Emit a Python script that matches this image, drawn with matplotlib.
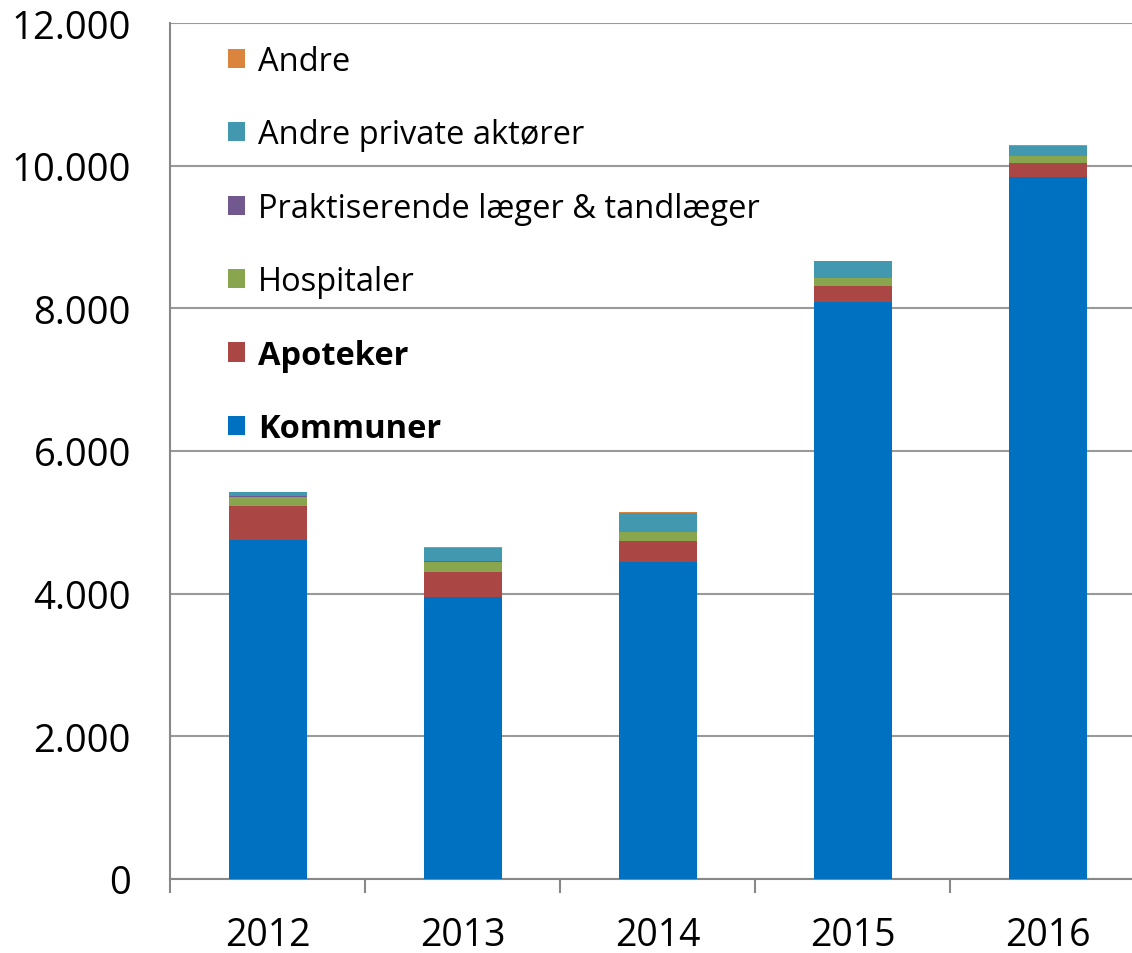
import matplotlib
matplotlib.use("Agg")
from matplotlib import pyplot as plt
from matplotlib.ticker import FuncFormatter, FixedLocator
import numpy as np

years = ["2012", "2013", "2014", "2015", "2016"]
kommuner = [4750, 3960, 4440, 8090, 9845]
apoteker = [480, 345, 303, 225, 190]
hospitaler = [130, 145, 122, 110, 95]
praktiserende = [5, 5, 5, 5, 5]
andre_private = [60, 190, 255, 235, 145]
andre = [3, 10, 15, 3, 3]

series = [
    ("Kommuner", kommuner, "#0070C0"),
    ("Apoteker", apoteker, "#AA4643"),
    ("Hospitaler", hospitaler, "#89A54E"),
    ("Praktiserende læger & tandlæger", praktiserende, "#71588F"),
    ("Andre private aktører", andre_private, "#4198AF"),
    ("Andre", andre, "#DB843D"),
]

plt.rcParams['font.family'] = ['Open Sans', 'DejaVu Sans']

fig = plt.figure(figsize=(11.32, 9.54), dpi=100)
ax = fig.add_axes([170 / 1132, 1 - 880 / 954, 975 / 1132, 856 / 954])

x = np.arange(len(years))
bottom = np.zeros(len(years))
handles = []
for name, vals, col in series:
    b = ax.bar(x, vals, width=0.4, bottom=bottom, color=col, label=name, zorder=3)
    handles.append(b)
    bottom += np.array(vals)

ax.set_xlim(-0.5, 4.5)
ax.set_ylim(0, 12000)
ax.set_yticks(range(0, 12001, 2000))
ax.yaxis.set_major_formatter(FuncFormatter(lambda v, p: f"{int(v):,}".replace(",", ".")))
ax.tick_params(axis='y', length=0, labelsize=27.5, pad=28)
ax.grid(axis='y', color='#999999', linewidth=1.5, zorder=0)

ax.set_xticks(x)
ax.set_xticklabels(years)
ax.xaxis.set_minor_locator(FixedLocator(np.arange(-0.5, 4.6, 1)))
ax.tick_params(axis='x', which='major', length=0, labelsize=27, pad=27)
ax.tick_params(axis='x', which='minor', length=10, width=1.5, color='#888888')

for s in ['top', 'right']:
    ax.spines[s].set_visible(False)
ax.spines['left'].set_color('#888888')
ax.spines['left'].set_linewidth(1.5)
ax.spines['bottom'].set_color('#888888')
ax.spines['bottom'].set_linewidth(1.5)

leg = ax.legend(handles[::-1], [s[0] for s in series][::-1], loc='upper left',
                bbox_to_anchor=(0.0295, 1.009), frameon=False, fontsize=23.5,
                handlelength=0.52, handleheight=0.52, handletextpad=0.4,
                labelspacing=1.24)
for t in leg.get_texts():
    if t.get_text() in ("Kommuner", "Apoteker"):
        t.set_fontweight('bold')

fig.savefig("out.png", dpi=100)
